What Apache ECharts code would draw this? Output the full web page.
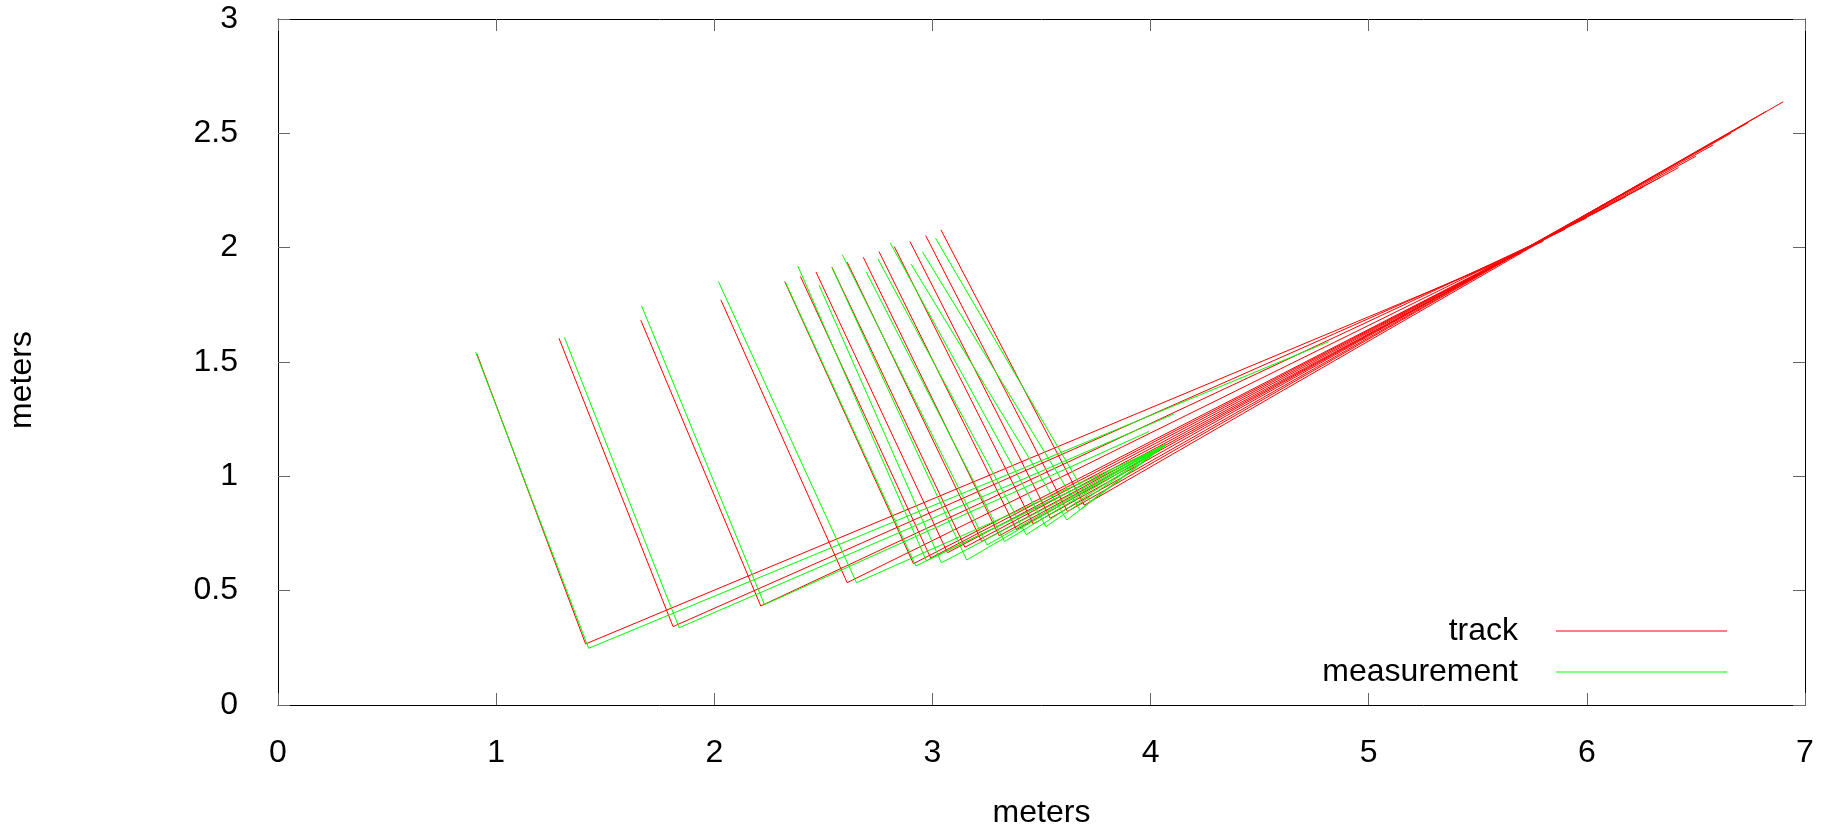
<!DOCTYPE html>
<html>
<head>
<meta charset="utf-8">
<script src="https://cdn.jsdelivr.net/npm/echarts@6/dist/echarts.min.js"></script>
<style>
html,body{margin:0;padding:0;background:#fff;}
#chart{width:1837px;height:829px;}
</style>
</head>
<body>
<div id="chart"></div>
<script>
// x/y tick labels
const xTicks = [0, 1, 2, 3, 4, 5, 6, 7];
const yTicks = [0, 0.5, 1, 1.5, 2, 2.5, 3];

// track frames: top point -> bottom point -> far point
const trackTopX = [0.912, 1.288, 1.663, 2.030, 2.323, 2.395, 2.466, 2.539, 2.609, 2.683, 2.755, 2.825, 2.897, 2.969, 3.039];
const trackTopY = [1.535, 1.604, 1.683, 1.772, 1.852, 1.874, 1.894, 1.915, 1.937, 1.958, 1.983, 2.005, 2.027, 2.053, 2.078];
const trackBotX = [1.410, 1.811, 2.213, 2.609, 2.913, 2.992, 3.069, 3.149, 3.226, 3.306, 3.385, 3.462, 3.540, 3.619, 3.696];
const trackBotY = [0.267, 0.343, 0.433, 0.535, 0.618, 0.643, 0.666, 0.690, 0.715, 0.740, 0.767, 0.792, 0.817, 0.846, 0.874];
const trackFarX = [5.70, 5.80, 5.90, 6.00, 6.10, 6.18, 6.26, 6.34, 6.42, 6.50, 6.58, 6.66, 6.74, 6.82, 6.90];
const trackFarY = [1.977, 2.028, 2.080, 2.131, 2.183, 2.224, 2.266, 2.309, 2.350, 2.400, 2.450, 2.500, 2.547, 2.595, 2.638];

// measurement frames
const measTopX = [0.906, 1.313, 1.667, 2.019, 2.327, 2.383, 2.480, 2.541, 2.587, 2.697, 2.750, 2.807, 2.902, 2.954, 3.014];
const measTopY = [1.544, 1.607, 1.745, 1.852, 1.847, 1.920, 1.837, 1.910, 1.969, 1.893, 1.951, 2.020, 1.928, 1.982, 2.042];
const measBotX = [1.424, 1.839, 2.230, 2.652, 2.924, 2.972, 3.041, 3.157, 3.250, 3.330, 3.430, 3.520, 3.616, 3.676, 3.722];
const measBotY = [0.248, 0.338, 0.439, 0.535, 0.608, 0.631, 0.622, 0.634, 0.700, 0.715, 0.745, 0.780, 0.809, 0.853, 0.889];
const measFarX = [4.816, 4.105, 3.993, 4.070, 4.070, 4.065, 4.070, 4.059, 4.070, 4.065, 4.070, 4.070, 4.065, 4.070, 4.070];
const measFarY = [1.589, 1.272, 1.196, 1.137, 1.137, 1.135, 1.137, 1.137, 1.140, 1.135, 1.137, 1.140, 1.137, 1.137, 1.140];

const RED = '#ff0000', GREEN = '#00ff00';
const FONT = '"Liberation Sans", Arial, sans-serif';

function frames(name, color, tx, ty, bx, by, fx, fy) {
  const out = [];
  for (let i = 0; i < tx.length; i++) {
    out.push({
      name: name, type: 'line', symbol: 'none', silent: true,
      color: color,
      lineStyle: {color: color, width: 1},
      data: [[tx[i], ty[i]], [bx[i], by[i]], [fx[i], fy[i]]],
      z: name === 'track' ? 2 : 3
    });
  }
  return out;
}

const series = [].concat(
  frames('track', RED, trackTopX, trackTopY, trackBotX, trackBotY, trackFarX, trackFarY),
  frames('measurement', GREEN, measTopX, measTopY, measBotX, measBotY, measFarX, measFarY)
);

function axis(extra) {
  return Object.assign({
    type: 'value',
    axisLine: {show: true, onZero: false, lineStyle: {color: '#000', width: 1}},
    splitLine: {show: false},
    axisTick: {show: true, inside: true, length: 12, lineStyle: {color: '#666', width: 1}}
  }, extra);
}

const legendText = {fontSize: 32, fontFamily: FONT, color: '#000', lineHeight: 40, padding: [0, 33, 0, 0]};

const chart = echarts.init(document.getElementById('chart'), null, {renderer: 'canvas'});
chart.setOption({
  animation: false,
  backgroundColor: '#fff',
  textStyle: {fontFamily: FONT},
  grid: {left: 278, right: 32, top: 19, bottom: 124, show: false, containLabel: false, outerBoundsMode: 'none'},
  legend: [
    {
      data: [{name: 'track', icon: 'rect'}],
      orient: 'vertical', align: 'right', right: 110, top: 611, padding: 0,
      itemWidth: 171, itemHeight: 1, selectedMode: false, textStyle: legendText
    },
    {
      data: [{name: 'measurement', icon: 'rect'}],
      orient: 'vertical', align: 'right', right: 110, top: 652, padding: 0,
      itemWidth: 171, itemHeight: 1, selectedMode: false, textStyle: legendText
    }
  ],
  xAxis: [
    axis({
      position: 'bottom', min: xTicks[0], max: xTicks[xTicks.length - 1], interval: 1,
      name: 'meters', nameLocation: 'middle', nameGap: 92,
      nameTextStyle: {fontSize: 32, fontFamily: FONT, color: '#000'},
      axisLabel: {show: true, margin: 32, fontSize: 32, fontFamily: FONT, color: '#000'}
    }),
    axis({
      position: 'top', min: xTicks[0], max: xTicks[xTicks.length - 1], interval: 1,
      axisLabel: {show: false}
    })
  ],
  yAxis: [
    axis({
      position: 'left', min: yTicks[0], max: yTicks[yTicks.length - 1], interval: 0.5,
      name: 'meters', nameLocation: 'middle', nameGap: 240, nameRotate: 90,
      nameTextStyle: {fontSize: 32, fontFamily: FONT, color: '#000', padding: [0, 36, 0, 0]},
      axisLabel: {show: true, margin: 40, fontSize: 32, fontFamily: FONT, color: '#000'}
    }),
    axis({
      position: 'right', min: yTicks[0], max: yTicks[yTicks.length - 1], interval: 0.5,
      axisLabel: {show: false}
    })
  ],
  series: series
});
</script>
</body>
</html>
